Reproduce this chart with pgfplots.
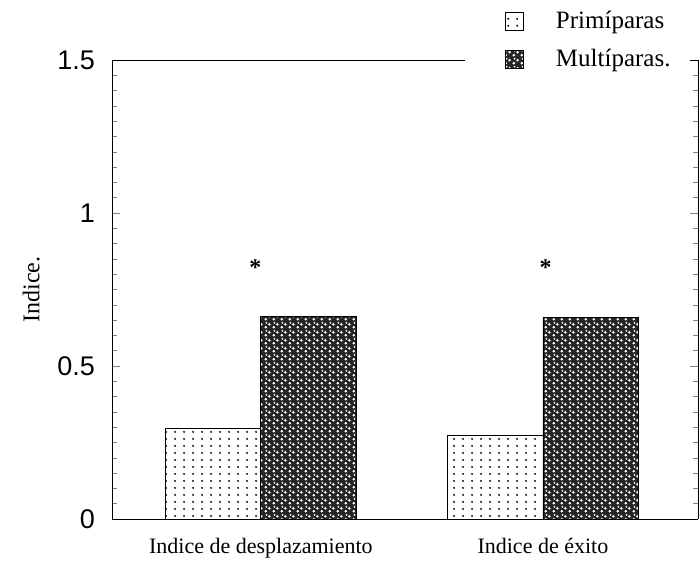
\documentclass[border=0pt]{standalone}
\usepackage{pgfplots}
\pgfplotsset{compat=1.18}
\usepackage{fontspec}
\setmainfont{Liberation Serif}
\newfontfamily\tickfont{Liberation Sans}
\usetikzlibrary{patterns.meta}
\pgfdeclarepattern{name=sparsedots, type=uncolored,
  bottom left={\pgfpoint{0pt}{0pt}}, top right={\pgfpoint{4.5pt}{3.5pt}},
  tile size={\pgfpoint{4.5pt}{3.5pt}},
  code={\pgfpathcircle{\pgfpoint{2.25pt}{1.75pt}}{0.6pt}\pgfusepath{fill}}}
\pgfdeclarepattern{name=speckle, type=uncolored,
  bottom left={\pgfpoint{0pt}{0pt}}, top right={\pgfpoint{4pt}{4pt}},
  tile size={\pgfpoint{4pt}{4pt}},
  code={\pgfpathcircle{\pgfpoint{1pt}{1pt}}{0.8pt}
        \pgfpathcircle{\pgfpoint{3pt}{2.6pt}}{0.75pt}
        \pgfpathcircle{\pgfpoint{1.4pt}{3.4pt}}{0.55pt}
        \pgfusepath{fill}}}
\begin{document}
\begin{tikzpicture}
\begin{axis}[
  scale only axis,
  width=293pt, height=229.5pt,
  xmin=-0.528, xmax=1.55,
  ymin=0, ymax=1.5,
  ytick={0,0.5,1,1.5},
  yticklabels={0,0.5,1,1.5},
  minor y tick num=9,
  major tick length=4pt, minor tick length=2.5pt,
  xtick={0,1},
  xticklabels={Indice de desplazamiento, Indice de éxito},
  x tick style={draw=none},
  axis x line*=bottom,
  axis y line*=box,
  y tick label style={font=\tickfont\fontsize{13.5}{15}\selectfont, xshift=-5pt},
  x tick label style={font=\fontsize{11}{13}\selectfont, yshift=-2pt},
  /pgf/number format/assume math mode=true,
  ylabel={Indice.},
  ylabel style={font=\fontsize{12}{14}\selectfont, yshift=2pt},
  ybar, bar width=0.337,
  legend style={at={(0.66,1.125)}, anchor=north west, draw=none, fill=none,
    font=\fontsize{12.5}{14}\selectfont, row sep=5pt,
    /tikz/every odd column/.append style={column sep=14pt}},
  legend cell align=left,
  legend image code/.code={\draw[#1] (0pt,-4.5pt) rectangle (9pt,4.5pt);},
]
\addplot[draw=black, pattern=sparsedots, pattern color=black, bar shift=-0.1685]
  coordinates {(0,0.297) (1,0.272)};
\addplot[draw=black, fill=black!85, postaction={pattern=speckle, pattern color=white}, bar shift=0.1685]
  coordinates {(0,0.663) (1,0.660)};
\legend{Primíparas, Multíparas.}
\draw[black] (axis cs:-0.528,1.5) -- (axis cs:0.724,1.5);
\draw[black] (axis cs:1.52,1.5) -- (axis cs:1.55,1.5);
\node[font=\bfseries\large] at (axis cs:-0.02,0.82) {*};
\node[font=\bfseries\large] at (axis cs:1.01,0.82) {*};
\end{axis}
\pgfresetboundingbox
\path (current axis.south west) ++(-56pt,-21pt) coordinate (bl);
\path (current axis.north east) ++(1pt,30pt) coordinate (tr);
\useasboundingbox (bl) rectangle (tr);
\end{tikzpicture}
\end{document}
